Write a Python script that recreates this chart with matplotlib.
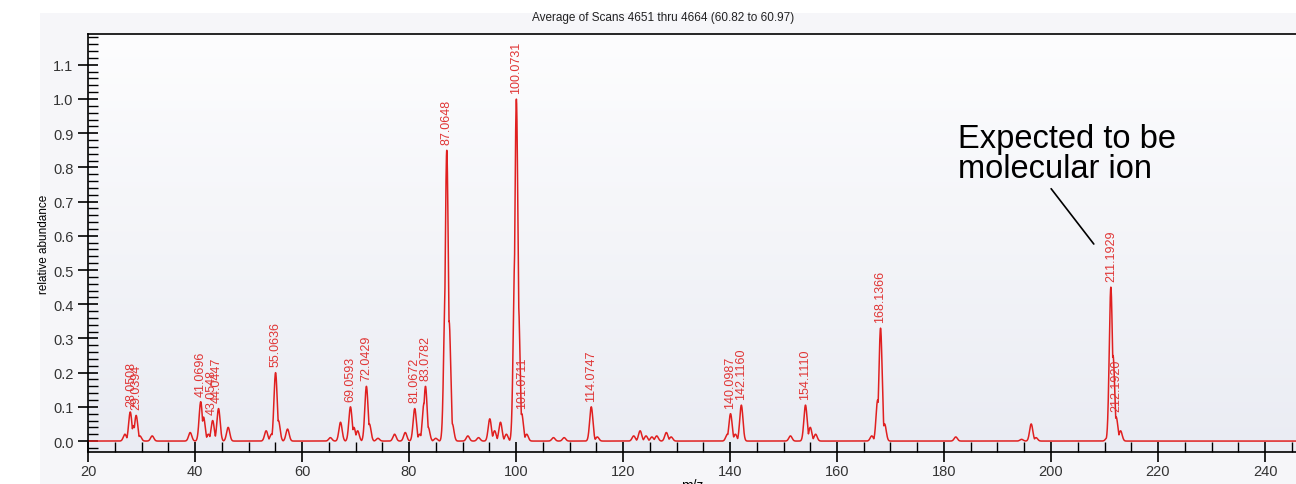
import numpy as np
import matplotlib
matplotlib.use('Agg')
import matplotlib.pyplot as plt
from matplotlib.patches import Rectangle
from matplotlib.ticker import MultipleLocator

# peak list (m/z, relative abundance)
peak_mz = [26.9, 27.9, 28.5, 29.0, 29.7, 32.0,
           39.1, 41.07, 41.6, 42.5, 43.3, 44.4, 46.2,
           53.3, 54.3, 55.06, 55.6, 57.3,
           65.3, 67.2, 69.06, 69.7, 70.4, 72.04, 72.6, 74.2,
           77.3, 79.3, 81.07, 82.0, 82.8, 83.08, 83.6, 85.0,
           87.06, 86.8, 87.5, 88.1, 91.0, 93.0, 95.1, 96.0, 97.1, 98.2,
           99.8, 100.07, 100.45, 101.07, 102.0, 107.0, 109.0,
           114.07, 115.2,
           122.0, 123.2, 124.3, 125.4, 126.3, 128.1, 129.0,
           139.5, 140.1, 141.0, 142.12, 151.3, 154.11, 155.0, 156.0,
           166.5, 167.6, 168.14, 168.9, 182.2, 194.5, 196.3, 197.2,
           210.5, 211.19, 211.6, 212.19, 213.0]
peak_int = [0.02, 0.085, 0.045, 0.075, 0.015, 0.015,
            0.025, 0.115, 0.07, 0.02, 0.06, 0.095, 0.04,
            0.03, 0.02, 0.20, 0.06, 0.035,
            0.01, 0.055, 0.10, 0.04, 0.03, 0.16, 0.05, 0.008,
            0.02, 0.025, 0.095, 0.02, 0.11, 0.16, 0.04, 0.008,
            0.85, 0.45, 0.35, 0.05, 0.015, 0.01, 0.065, 0.03, 0.055, 0.02,
            0.55, 1.0, 0.4, 0.08, 0.02, 0.01, 0.01,
            0.10, 0.012,
            0.015, 0.03, 0.015, 0.012, 0.015, 0.025, 0.012,
            0.02, 0.08, 0.02, 0.105, 0.015, 0.105, 0.04, 0.02,
            0.015, 0.12, 0.33, 0.05, 0.012, 0.005, 0.05, 0.01,
            0.01, 0.45, 0.25, 0.07, 0.03]
peak_w = 0.3

# labelled peaks
lab_mz = [28.0508, 29.0394, 41.0696, 43.0548, 44.0447, 55.0636, 69.0593, 72.0429,
          81.0672, 83.0782, 87.0648, 100.0731, 101.0711, 114.0747, 140.0987,
          142.1160, 154.1110, 168.1366, 211.1929, 212.1920]
lab_y = [0.085, 0.075, 0.115, 0.06, 0.095, 0.20, 0.10, 0.16,
         0.095, 0.16, 0.85, 1.0, 0.08, 0.10, 0.08,
         0.105, 0.105, 0.33, 0.45, 0.07]

mz = np.arange(20, 250, 0.02)
ab = np.zeros_like(mz)
for c, h in zip(peak_mz, peak_int):
    ab = np.maximum(ab, h * np.exp(-0.5 * ((mz - c) / peak_w) ** 2))

fig = plt.figure(figsize=(12.96, 4.85), dpi=100)
fig.patch.set_facecolor('white')
fig.patches.append(Rectangle((40 / 1296, 0), 1, 1 - 14 / 485, transform=fig.transFigure,
                             facecolor='#f6f6f9', edgecolor='none', zorder=-10))

ax = fig.add_axes([88 / 1296, 1 - 453 / 485, 1 - 88 / 1296, (453 - 35) / 485])
ax.set_xlim(20, 20 + (1296 - 88) / 5.35)
ax.set_ylim(-0.032, 1.19)

# gradient background
grad = np.linspace(0, 1, 256).reshape(-1, 1)
cmap = matplotlib.colors.LinearSegmentedColormap.from_list('bg', ['#fdfdfe', '#eaecf3'])
ax.imshow(grad, cmap=cmap, aspect='auto', extent=[0, 1, 0, 1], transform=ax.transAxes, zorder=0)
ax.set_facecolor('#f5f6f9')

ax.plot(mz, ab, color='#e02020', lw=1.1, zorder=2)

for x, y in zip(lab_mz, lab_y):
    ax.text(x, y + 0.018, f'{x:.4f}', rotation=90, ha='center', va='bottom',
            color='#e03535', fontsize=9, family='Liberation Sans', zorder=3)

ax.annotate('Expected to be\nmolecular ion', xy=(208.0, 0.576), xytext=(182.6, 0.93),
            fontsize=23.5, family='Liberation Sans', va='top', ha='left', linespacing=0.95,
            arrowprops=dict(arrowstyle='-', color='black', lw=1.2, shrinkA=2, shrinkB=0,
                            relpos=(0.41, 0.0)))

ax.spines['right'].set_visible(False)
for s in ['left', 'top', 'bottom']:
    ax.spines[s].set_color('black')
    ax.spines[s].set_linewidth(1.2)

ax.xaxis.set_major_locator(MultipleLocator(20))
ax.xaxis.set_minor_locator(MultipleLocator(5))
ax.yaxis.set_minor_locator(MultipleLocator(0.02))
ax.set_yticks(np.arange(0, 1.15, 0.1))
ax.yaxis.set_major_formatter(matplotlib.ticker.FormatStrFormatter('%.1f'))
ax.tick_params(axis='both', which='major', direction='inout', length=14, width=1.2,
               labelsize=10.5, labelcolor='#333333', labelfontfamily='Liberation Sans')
ax.tick_params(axis='both', which='minor', direction='in', length=7, width=1.0)
ax.tick_params(axis='x', which='major', pad=2)

ax.set_ylabel('relative abundance', fontsize=8.5, family='Liberation Sans', labelpad=2)
ax.set_xlabel('m/z', fontsize=10, family='Liberation Sans', labelpad=0)

fig.text(663 / 1296, 1 - 18 / 485, 'Average of Scans 4651 thru 4664 (60.82 to 60.97)',
         ha='center', va='center', fontsize=8.5, family='Liberation Sans', color='#222222')

fig.savefig('out.png', dpi=100, facecolor=fig.get_facecolor())
